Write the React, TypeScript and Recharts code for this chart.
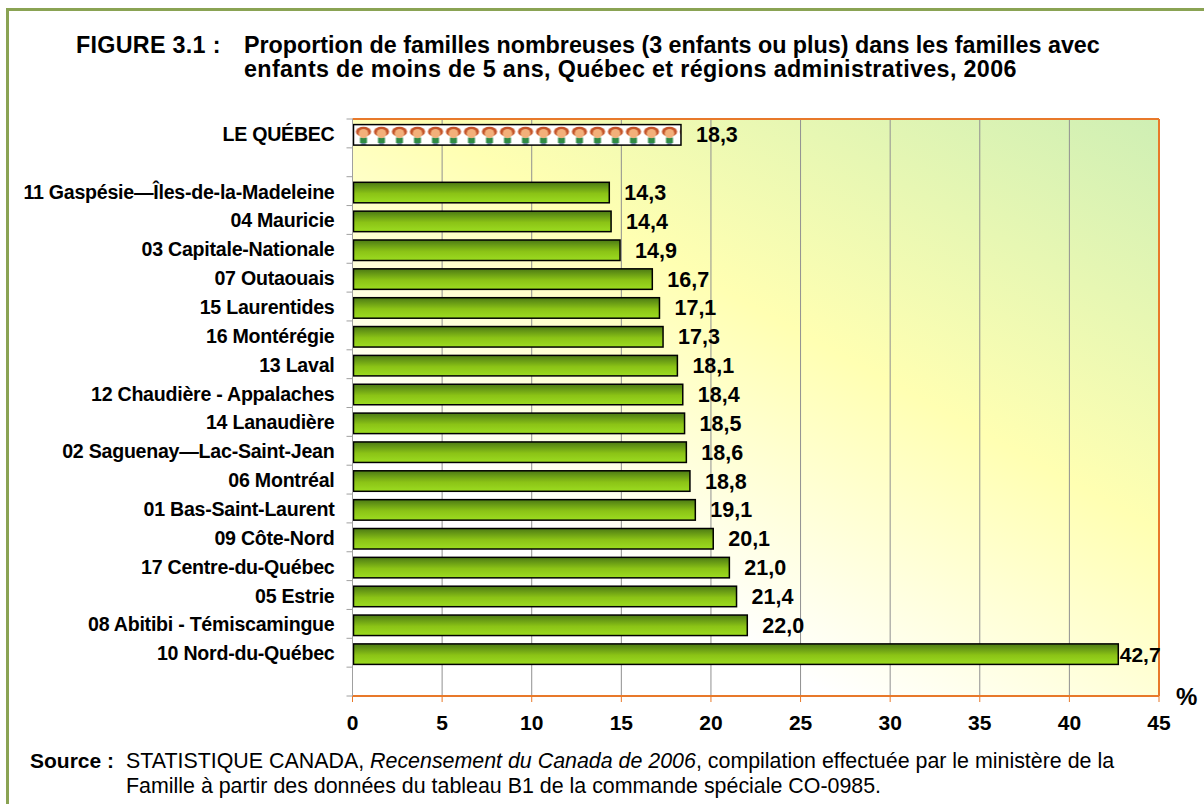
import { BarChart, Bar, CartesianGrid, LabelList, ReferenceLine, XAxis, YAxis } from "recharts";

const regions = [
  "LE QUÉBEC",
  " ",
  "11 Gaspésie—Îles-de-la-Madeleine",
  "04 Mauricie",
  "03 Capitale-Nationale",
  "07 Outaouais",
  "15 Laurentides",
  "16 Montérégie",
  "13 Laval",
  "12 Chaudière - Appalaches",
  "14 Lanaudière",
  "02 Saguenay—Lac-Saint-Jean",
  "06 Montréal",
  "01 Bas-Saint-Laurent",
  "09 Côte-Nord",
  "17 Centre-du-Québec",
  "05 Estrie",
  "08 Abitibi - Témiscamingue",
  "10 Nord-du-Québec",
  "  ",
];
const values = [18.3, null, 14.3, 14.4, 14.9, 16.7, 17.1, 17.3, 18.1, 18.4, 18.5, 18.6, 18.8, 19.1, 20.1, 21.0, 21.4, 22.0, 42.7, null];
const xTicks = [0, 5, 10, 15, 20, 25, 30, 35, 40, 45];

const chartData = regions.map((region, i) => ({ region, value: values[i] }));

const FONT = "'Liberation Sans', Arial, sans-serif";
const ORANGE = "#e8792a";
const ROW = 28.85;
const BAR_SHIFT = 1.6;

const RegionTick = ({ x, y, payload, index }: any) => (
  <g>
    <line x1={x} x2={x + 6} y1={y - ROW / 2} y2={y - ROW / 2} stroke="#a0a0a0" strokeWidth={1} />
    {index === regions.length - 1 && (
      <line x1={x} x2={x + 6} y1={y + ROW / 2} y2={y + ROW / 2} stroke="#a0a0a0" strokeWidth={1} />
    )}
    <text x={x - 12} y={y + 7.5} textAnchor="end" fontFamily={FONT} fontWeight="bold" fontSize={19.6} fill="#000" letterSpacing={-0.25}>
      {payload.value}
    </text>
  </g>
);

const BarShape = ({ x, y, width, height, index }: any) => {
  if (!width) return null;
  return (
    <rect
      x={x + 1}
      y={y + BAR_SHIFT}
      width={width - 0.5}
      height={height}
      fill={index === 0 ? "url(#kids)" : "url(#barGreen)"}
      stroke="#000"
      strokeWidth={1.5}
    />
  );
};

const ValueLabel = ({ x, y, width, height, value }: any) => {
  if (value == null) return null;
  // the longest bar's label sits tight against the bar, as in the original
  const gap = value > 40 ? 2 : 15.5;
  return (
    <text
      x={x + width + gap}
      y={y + height / 2 + BAR_SHIFT + 7.5}
      fontFamily={FONT}
      fontWeight="bold"
      fontSize={value > 40 ? 21 : 21.5}
      fill="#000"
    >
      {Number(value).toFixed(1).replace(".", ",")}
    </text>
  );
};

export default function App() {
  return (
    <div style={{ position: "absolute", left: 0, top: 0, width: 1204, height: 804, background: "#fff", fontFamily: FONT, overflow: "hidden", color: "#000" }}>
      <div style={{ position: "absolute", left: 6, top: 8, width: 1198, height: 2.5, background: "#8aa353" }} />
      <div style={{ position: "absolute", left: 6, top: 8, width: 2.5, height: 796, background: "#8aa353" }} />

      <div style={{ position: "absolute", left: 76, top: 33, fontWeight: "bold", fontSize: 23.3, lineHeight: "24px", whiteSpace: "nowrap", letterSpacing: 0.3 }}>FIGURE 3.1 :</div>
      <div style={{ position: "absolute", left: 244, top: 33, fontWeight: "bold", fontSize: 23.3, lineHeight: "24px", whiteSpace: "nowrap" }}>
        Proportion de familles nombreuses (3 enfants ou plus) dans les familles avec
        <br />
        <span style={{ letterSpacing: 0.35 }}>enfants de moins de 5 ans, Québec et régions administratives, 2006</span>
      </div>

      <div style={{ position: "absolute", left: 0, top: 0 }}>
        <BarChart
          width={1204}
          height={800}
          data={chartData}
          layout="vertical"
          barSize={20.5}
          margin={{ top: 119, right: 45, bottom: 64, left: 0 }}
        >
          <defs>
            <linearGradient id="plotBg" gradientUnits="userSpaceOnUse" x1={642} y1={856} x2={1073.5} y2={72}>
              <stop offset="0" stopColor="#ffffff" />
              <stop offset="0.26" stopColor="#ffffff" />
              <stop offset="0.598" stopColor="#ffffb2" />
              <stop offset="1" stopColor="#cfefb4" />
            </linearGradient>
            <linearGradient id="barGreen" x1="0" y1="0" x2="0" y2="1">
              <stop offset="0" stopColor="#4c7a14" />
              <stop offset="0.55" stopColor="#8bc316" />
              <stop offset="1" stopColor="#9cdc20" />
            </linearGradient>
            <pattern id="kids" x={354.5} y={125} width={18} height={21} patternUnits="userSpaceOnUse">
              <rect width={18} height={21} fill="#fff" />
              <rect x={5.5} y={12.5} width={7} height={5.5} fill="#2e8b45" />
              <rect x={6.5} y={18} width={5} height={2} fill="#6e8fa8" />
              <ellipse cx={9} cy={6.8} rx={7.6} ry={5} fill="#c4552a" />
              <ellipse cx={9} cy={8.6} rx={4.8} ry={4.6} fill="#f2b07a" />
            </pattern>
          </defs>
          <CartesianGrid horizontal={false} fill="url(#plotBg)" stroke="#909090" strokeWidth={1} />
          <CartesianGrid vertical={false} horizontalPoints={[119]} stroke={ORANGE} strokeWidth={2} />
          <XAxis
            type="number"
            domain={[0, 45]}
            ticks={xTicks}
            interval={0}
            axisLine={{ stroke: ORANGE, strokeWidth: 2 }}
            tickLine={{ stroke: ORANGE }}
            tickSize={6}
            tick={{ fontFamily: FONT, fontWeight: "bold", fontSize: 21, fill: "#000", dy: 11 }}
            height={40}
          />
          <YAxis
            type="category"
            dataKey="region"
            width={352.5}
            interval={0}
            tickLine={false}
            tickMargin={0}
            axisLine={{ stroke: "#a0a0a0" }}
            tick={<RegionTick />}
          />
          <ReferenceLine x={45} stroke={ORANGE} strokeWidth={2} />
          <Bar dataKey="value" shape={<BarShape />} isAnimationActive={false}>
            <LabelList dataKey="value" content={<ValueLabel />} />
          </Bar>
        </BarChart>
      </div>

      <div style={{ position: "absolute", left: 1176, top: 683, fontWeight: "bold", fontSize: 24 }}>%</div>

      <div style={{ position: "absolute", left: 30, top: 749, fontWeight: "bold", fontSize: 21, lineHeight: "24.5px" }}>Source :</div>
      <div style={{ position: "absolute", left: 126, top: 749, fontSize: 21.4, lineHeight: "24.5px", whiteSpace: "nowrap" }}>
        STATISTIQUE CANADA, <i>Recensement du Canada de 2006</i>, compilation effectuée par le ministère de la
        <br />
        Famille à partir des données du tableau B1 de la commande spéciale CO-0985.
      </div>
    </div>
  );
}
